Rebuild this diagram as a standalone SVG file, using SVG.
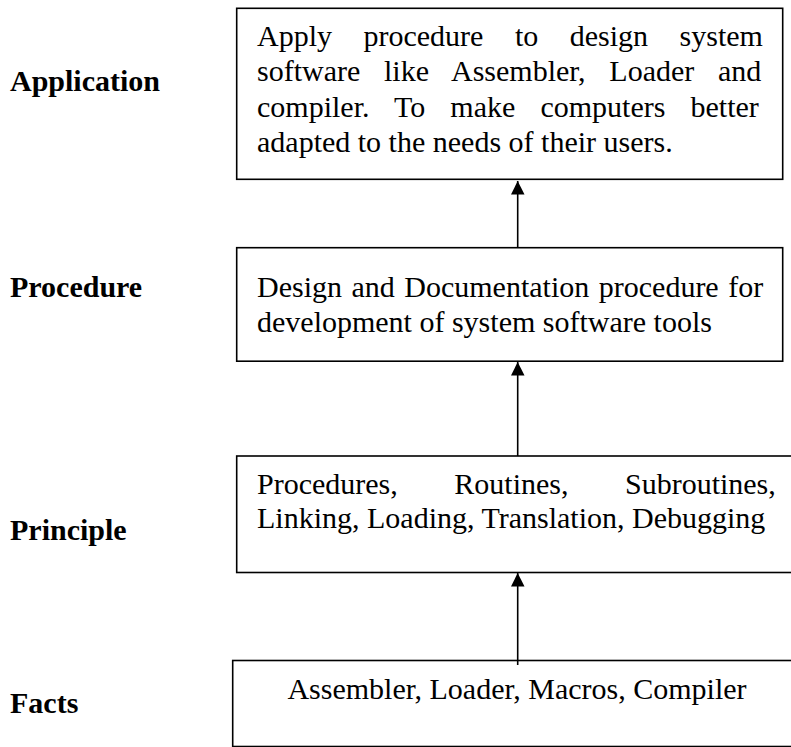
<svg xmlns="http://www.w3.org/2000/svg" width="791" height="747" viewBox="0 0 791 747">
<style>
.box{fill:#fff;stroke:#000;stroke-width:1.6}
.t{font-family:"Liberation Serif","Times New Roman",serif;font-size:30px;fill:#000}
.lbl{font-family:"Liberation Serif","Times New Roman",serif;font-size:30px;font-weight:bold;fill:#000}
.con{stroke:#000;stroke-width:1.6;fill:none}
</style>
<defs>
<marker id="ah" viewBox="0 0 10 10" refX="10" refY="5" markerWidth="9" markerHeight="8.5" markerUnits="strokeWidth" orient="auto">
<path d="M0,0 L10,5 L0,10 z" fill="#000"/>
</marker>
</defs>
<rect width="791" height="747" fill="#fff"/>
<text class="lbl" x="10" y="91">Application</text>
<text class="lbl" x="10" y="297">Procedure</text>
<text class="lbl" x="10" y="540">Principle</text>
<text class="lbl" x="10" y="713">Facts</text>
<g id="n-application">
<rect class="box" x="236.7" y="8.3" width="546" height="171"/>
<text class="t" x="257" y="46" word-spacing="24">Apply procedure to design system</text>
<text class="t" x="257" y="81" word-spacing="16.2">software like Assembler, Loader and</text>
<text class="t" x="257" y="116.5" word-spacing="17.6">compiler. To make computers better</text>
<text class="t" x="257" y="152">adapted to the needs of their users.</text>
</g>
<g id="n-procedure">
<rect class="box" x="236.7" y="247.7" width="546" height="113.5"/>
<text class="t" x="257" y="296.7" word-spacing="2">Design and Documentation procedure for</text>
<text class="t" x="257" y="331.7">development of system software tools</text>
</g>
<g id="n-principle">
<rect class="box" x="236.7" y="456" width="560" height="116.5"/>
<text class="t" x="257" y="494" word-spacing="49">Procedures, Routines, Subroutines,</text>
<text class="t" x="257" y="528.3">Linking, Loading, Translation, Debugging</text>
</g>
<g id="n-facts">
<rect class="box" x="232.7" y="660.5" width="565" height="86"/>
<text class="t" x="517" y="699.3" text-anchor="middle">Assembler, Loader, Macros, Compiler</text>
</g>
<g id="connectors">
<line class="con" x1="517.7" y1="247.7" x2="517.7" y2="181" marker-end="url(#ah)"/>
<line class="con" x1="517.7" y1="456" x2="517.7" y2="362" marker-end="url(#ah)"/>
<line class="con" x1="517.7" y1="665" x2="517.7" y2="573" marker-end="url(#ah)"/>
</g>
</svg>
